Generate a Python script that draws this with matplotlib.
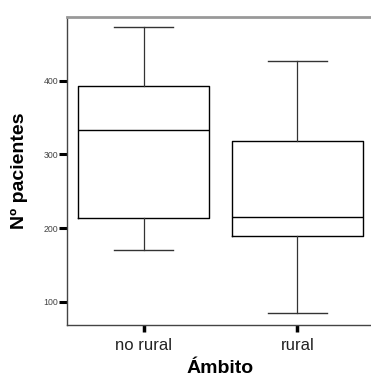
import matplotlib
matplotlib.use("Agg")
import matplotlib.pyplot as plt

categories = ["no rural", "rural"]
whisker_low = [170.7, 84.3]
q1 = [213.3, 188.9]
median = [332.7, 215.0]
q3 = [392.4, 317.8]
whisker_high = [472.5, 427.1]
y_ticks = [100, 200, 300, 400]

plt.rcParams['font.family'] = ['Liberation Sans', 'DejaVu Sans']

fig = plt.figure(figsize=(3.71, 3.75), dpi=100)
ax = fig.add_axes([0.1806, 0.1333, 0.8275, 0.8222])

stats = []
for i, c in enumerate(categories):
    stats.append(dict(label=c, whislo=whisker_low[i], q1=q1[i], med=median[i],
                      q3=q3[i], whishi=whisker_high[i], fliers=[]))

ax.bxp(stats, positions=range(len(categories)), widths=0.855, showfliers=False,
       boxprops=dict(color='black', linewidth=1.0),
       medianprops=dict(color='black', linewidth=1.0),
       whiskerprops=dict(color='#333333', linewidth=0.9),
       capprops=dict(color='#333333', linewidth=1.0),
       capwidths=0.38)

ax.set_xlim(-0.498, 1.498)
ax.set_ylim(68.4, 486.8)
ax.set_yticks(y_ticks)
ax.set_yticklabels([str(v) for v in y_ticks], fontsize=6.3, color='#444444')
ax.set_xticks(range(len(categories)))
ax.set_xticklabels(categories, fontsize=12, color='#222222')

ax.tick_params(axis='y', length=5.5, width=2.2, color='black', pad=1)
ax.tick_params(axis='x', length=5, width=2.5, color='black', pad=4)

ax.spines['left'].set_color('#444444')
ax.spines['left'].set_linewidth(1.0)
ax.spines['bottom'].set_color('#444444')
ax.spines['bottom'].set_linewidth(1.0)
ax.spines['top'].set_color('#999999')
ax.spines['top'].set_linewidth(2.0)
ax.spines['right'].set_visible(False)

ax.set_ylabel("Nº pacientes", fontsize=14, fontweight='bold')
ax.set_xlabel("Ámbito", fontsize=14, fontweight='bold')
ax.xaxis.set_label_coords(0.5, -0.112)
ax.yaxis.set_label_coords(-0.128, 0.5)

fig.savefig("out.png", dpi=100)
